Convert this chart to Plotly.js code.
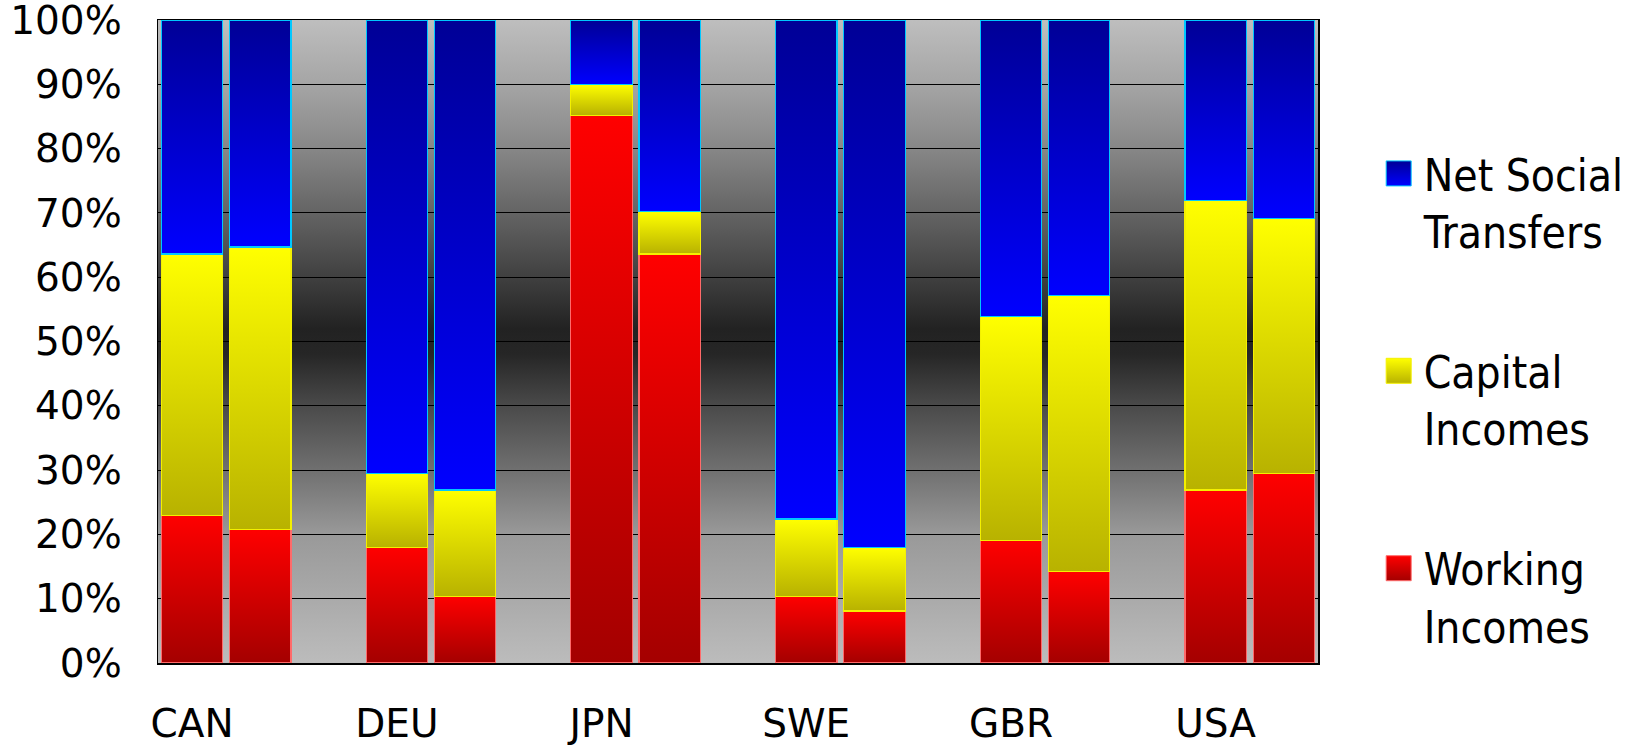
<!DOCTYPE html>
<html><head><meta charset="utf-8">
<script src="https://cdn.plot.ly/plotly-3.0.1.min.js"></script>
<style>html,body{margin:0;padding:0;background:#fff;} #chart{width:1644px;height:745px;}</style>
</head><body><div id="chart"></div>
<script>
// Data: two bars per country (CAN a, CAN b, DEU a, DEU b, ...), shares in %
const countries = ['CAN', 'DEU', 'JPN', 'SWE', 'GBR', 'USA'];
const seriesNames = ['Working<br>Incomes', 'Capital<br>Incomes', 'Net Social<br>Transfers'];
const working = [23.0, 20.8, 18.0, 10.4, 85.2, 63.6, 10.4, 8.1, 19.1, 14.2, 26.9, 29.5];
const capital = [40.6, 43.9, 11.5, 16.5, 4.8, 6.6, 12.0, 9.9, 34.8, 42.9, 45.0, 39.6];
const social  = [36.4, 35.3, 70.5, 73.1, 10.0, 29.8, 77.6, 82.0, 46.1, 42.9, 28.1, 30.9];
const yTicks = [0, 10, 20, 30, 40, 50, 60, 70, 80, 90, 100];
const yTickText = yTicks.map(v => v + '%');

// slot layout: bar a, bar b, empty slot per country
const slotPos = working.map((_, i) => Math.floor(i / 2) * 3 + (i % 2));
const countryPos = countries.map((_, i) => i * 3);

const seriesValues = [working, capital, social];
const outline = ['#ff6a6a', '#f4f000', '#00c8ff'];
const baseColor = ['#e00000', '#e0e000', '#0000cc'];
const legendRanks = [3, 2, 1];

const traces = seriesValues.map((vals, k) => ({
  type: 'bar',
  x: slotPos,
  y: vals,
  name: seriesNames[k],
  legendgroup: 'g' + k,
  legendrank: legendRanks[k],
  marker: {color: baseColor[k], line: {color: outline[k], width: 1.2}},
  hoverinfo: 'skip'
}));

const FONT = '"DejaVu Sans", Verdana, sans-serif';
const layout = {
  width: 1644, height: 745,
  margin: {l: 158, r: 326, t: 20, b: 82},
  paper_bgcolor: '#ffffff',
  plot_bgcolor: '#888888',
  barmode: 'stack',
  bargap: 0.1,
  showlegend: true,
  legend: {
    x: 1.048, xanchor: 'left', y: 0.816, yanchor: 'top',
    traceorder: 'grouped', tracegroupgap: 80, valign: 'top',
    font: {family: '"DejaVu Sans Condensed", "DejaVu Sans", sans-serif', size: 44, color: '#000'},
    bgcolor: 'rgba(0,0,0,0)', itemwidth: 40
  },
  xaxis: {
    range: [-0.5, 16.5], tickvals: countryPos, ticktext: countries,
    showgrid: false, zeroline: false, showline: true, linecolor: '#000', linewidth: 1.5, mirror: true,
    ticks: '', ticklabelstandoff: 26, ticklabeloverflow: 'allow',
    tickfont: {family: FONT, size: 39, color: '#000'}
  },
  yaxis: {
    range: [0, 100], tickvals: yTicks, ticktext: yTickText,
    showgrid: true, gridcolor: '#000', gridwidth: 1, zeroline: false,
    showline: true, linecolor: '#000', linewidth: 1.5, mirror: true,
    ticks: '', ticklabelstandoff: 27, ticklabeloverflow: 'allow',
    tickfont: {family: FONT, size: 39, color: '#000'}
  }
};

const gradients = {
  gRed: [[0, '#ff0000'], [1, '#a40000']],
  gYel: [[0, '#ffff00'], [1, '#b8b200']],
  gBlu: [[0, '#000096'], [1, '#0000ff']],
  gBg: [[0, '#bebebe'], [0.1, '#a5a5a5'], [0.2, '#878787'], [0.3, '#646464'], [0.4, '#404040'],
        [0.48, '#222222'], [0.52, '#262626'], [0.6, '#4a4a4a'], [0.7, '#707070'], [0.8, '#999999'],
        [0.9, '#aaaaaa'], [1, '#bcbcbc']]
};
const gradIds = ['gRed', 'gYel', 'gBlu'];

function addGrad(defs, id, stops) {
  const ns = 'http://www.w3.org/2000/svg';
  const g = document.createElementNS(ns, 'linearGradient');
  g.setAttribute('id', id);
  g.setAttribute('x1', '0'); g.setAttribute('y1', '0');
  g.setAttribute('x2', '0'); g.setAttribute('y2', '1');
  stops.forEach(([o, c]) => {
    const s = document.createElementNS(ns, 'stop');
    s.setAttribute('offset', o); s.setAttribute('stop-color', c);
    g.appendChild(s);
  });
  defs.appendChild(g);
}

Plotly.newPlot('chart', traces, layout, {staticPlot: true}).then(gd => {
  const svg = gd.querySelector('.main-svg');
  let defs = svg.querySelector('defs');
  if (!defs) { defs = document.createElementNS('http://www.w3.org/2000/svg', 'defs'); svg.insertBefore(defs, svg.firstChild); }
  Object.keys(gradients).forEach(id => addGrad(defs, id, gradients[id]));
  const bg = gd.querySelector('.bglayer rect.bg');
  if (bg) bg.style.fill = 'url(#gBg)';
  gd.querySelectorAll('.barlayer .trace').forEach((tr, k) => {
    tr.querySelectorAll('path').forEach(p => { p.style.fill = 'url(#' + gradIds[k] + ')'; });
  });
  gd.querySelectorAll('.legend .traces').forEach(tr => {
    const d = tr.__data__;
    const idx = d && d[0] && d[0].trace ? d[0].trace.index : null;
    tr.querySelectorAll('.legendpoints path').forEach(p => {
      if (idx !== null) p.style.fill = 'url(#' + gradIds[idx] + ')';
      p.setAttribute('d', 'M12.5,12.5H-12.5V-12.5H12.5Z');
      p.style.strokeWidth = '1px';
    });
  });
});
</script>
</body></html>
